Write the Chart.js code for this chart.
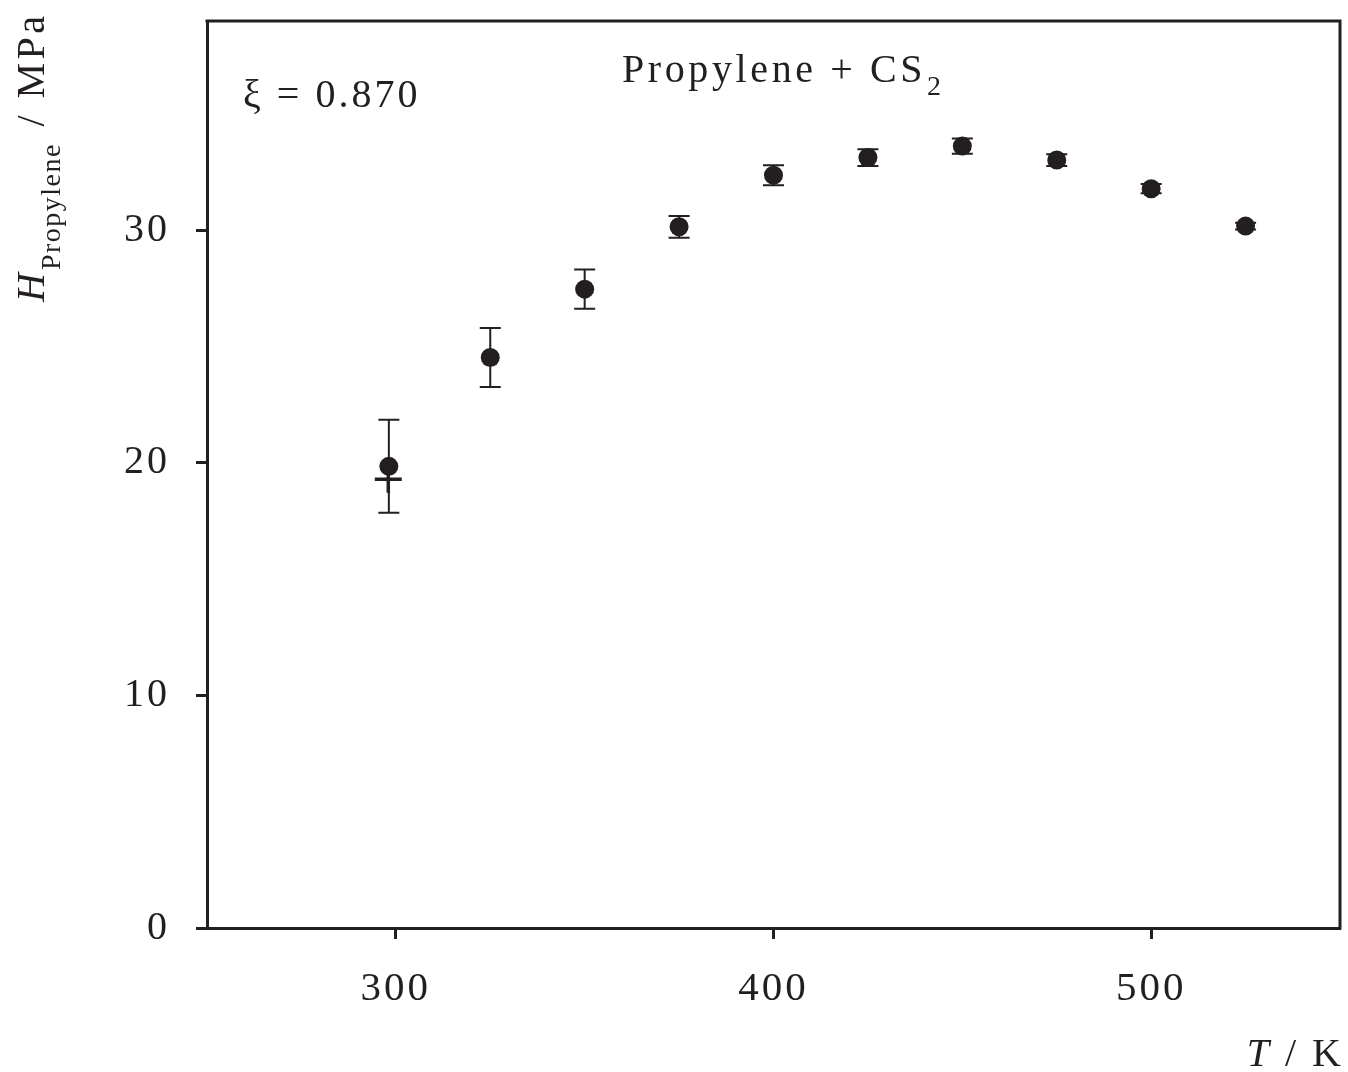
<!DOCTYPE html>
<html><head><meta charset="utf-8">
<script src="https://cdn.jsdelivr.net/npm/chart.js@4"></script>
<style>html,body{margin:0;padding:0;background:#fff}</style>
</head><body>
<canvas id="c" width="1348" height="1072"></canvas>
<script>
// Simulated Henry constants (with error bars) and one experimental point
const temps = [298.15, 325, 350, 375, 400, 425, 450, 475, 500, 525];
const henry = [19.85, 24.53, 27.47, 30.15, 32.37, 33.13, 33.62, 33.02, 31.79, 30.18];
const errs  = [2.0, 1.27, 0.84, 0.47, 0.43, 0.36, 0.33, 0.25, 0.2, 0.15];
const expT = [298.0];
const expH = [19.3];
const xTicks = [300, 400, 500];
const yTicks = [0, 10, 20, 30];
const titleMain = 'Propylene + CS';
const titleSub = '2';
const xiLabel = '\u03BE = 0.870';

const ink = '#231f20';
const FONT = '"Liberation Serif", "Times New Roman", serif';

function setLS(chart){ try { chart.ctx.letterSpacing = '3px'; } catch(e){} }
function noPad(s){ s.paddingTop = 0; s.paddingBottom = 0; s.paddingLeft = 0; s.paddingRight = 0; }

const decor = {
  id: 'decor',
  beforeUpdate(chart){ setLS(chart); },
  beforeDraw(chart){
    const ctx = chart.ctx;
    ctx.save(); ctx.fillStyle = '#fff'; ctx.fillRect(0,0,chart.width,chart.height); ctx.restore();
    setLS(chart);
  },
  beforeDatasetsDraw(chart){
    const ctx = chart.ctx, xs = chart.scales.x, ys = chart.scales.y;
    ctx.save();
    ctx.strokeStyle = ink; ctx.lineWidth = 2;
    temps.forEach((t,i)=>{
      const px = xs.getPixelForValue(t);
      const top = ys.getPixelForValue(henry[i] + errs[i]);
      const bot = ys.getPixelForValue(henry[i] - errs[i]);
      ctx.beginPath();
      ctx.moveTo(px, top); ctx.lineTo(px, bot);
      ctx.moveTo(px-10.5, top); ctx.lineTo(px+10.5, top);
      ctx.moveTo(px-10.5, bot); ctx.lineTo(px+10.5, bot);
      ctx.stroke();
    });
    ctx.restore();
  },
  afterDraw(chart){
    const ctx = chart.ctx, a = chart.chartArea;
    ctx.save();
    ctx.strokeStyle = ink; ctx.lineWidth = 3; ctx.lineCap = 'square';
    ctx.beginPath();
    ctx.moveTo(a.left, a.top); ctx.lineTo(a.right, a.top); ctx.lineTo(a.right, a.bottom);
    ctx.stroke();
    ctx.fillStyle = ink;
    ctx.textBaseline = 'alphabetic';
    ctx.letterSpacing = '3.6px';
    // title
    ctx.font = '40px ' + FONT;
    ctx.textAlign = 'left';
    let x0 = 622;
    ctx.fillText(titleMain, x0, 82);
    let w = ctx.measureText(titleMain).width;
    ctx.font = '28px ' + FONT;
    ctx.fillText(titleSub, x0 + w + 1, 95);
    // xi label
    ctx.letterSpacing = '3px';
    ctx.font = '40px ' + FONT;
    ctx.fillText(xiLabel, 243, 107);
    // x axis title "T / K"
    ctx.font = 'italic 40px ' + FONT;
    const tW = ctx.measureText('T').width;
    ctx.font = '40px ' + FONT;
    const rest = ' / K';
    const rW = ctx.measureText(rest).width;
    const xs = 1344 - tW - rW;
    ctx.font = 'italic 40px ' + FONT;
    ctx.fillText('T', xs, 1066);
    ctx.font = '40px ' + FONT;
    ctx.fillText(rest, xs + tW, 1066);
    // y axis title
    ctx.translate(44, 302);
    ctx.rotate(-Math.PI/2);
    ctx.font = 'italic 40px ' + FONT;
    ctx.fillText('H', 0, 0);
    let p = ctx.measureText('H').width;
    ctx.font = '28px ' + FONT;
    ctx.letterSpacing = '1.5px';
    ctx.fillText('Propylene', p, 16);
    p += ctx.measureText('Propylene').width + 3;
    ctx.font = '40px ' + FONT;
    ctx.letterSpacing = '3.5px';
    ctx.fillText(' / MPa', p, 0);
    ctx.restore();
  }
};

new Chart(document.getElementById('c'), {
  type: 'scatter',
  data: {
    datasets: [
      {
        data: temps.map((t,i)=>({x:t, y:henry[i]})),
        pointRadius: 9.5, pointHoverRadius: 9.5,
        pointBackgroundColor: ink, pointBorderColor: ink, pointBorderWidth: 0,
        showLine: false
      },
      {
        data: expT.map((t,i)=>({x:t, y:expH[i]})),
        pointStyle: 'cross', pointRadius: 13.5, pointHoverRadius: 13.5,
        pointBorderColor: ink, pointBorderWidth: 3.5,
        showLine: false
      }
    ]
  },
  options: {
    responsive: false,
    animation: false,
    events: [],
    layout: { autoPadding: false, padding: { top: 21, right: 8, left: 0, bottom: 0 } },
    plugins: { legend: { display: false }, tooltip: { enabled: false } },
    scales: {
      x: {
        type: 'linear', min: 250, max: 550,
        afterBuildTicks: s => { s.ticks = xTicks.map(v => ({ value: v })); },
        afterFit: s => { s.height = 144; noPad(s); },
        border: { display: true, color: ink, width: 3 },
        grid: { drawOnChartArea: false, drawTicks: true, tickLength: 11, tickWidth: 3, tickColor: ink, color: ink },
        ticks: { color: ink, font: { family: FONT, size: 41 }, padding: 26, maxRotation: 0, callback: v => String(v) }
      },
      y: {
        type: 'linear', min: 0, max: 39,
        afterBuildTicks: s => { s.ticks = yTicks.map(v => ({ value: v })); },
        afterFit: s => { s.width = 207; noPad(s); },
        border: { display: true, color: ink, width: 3 },
        grid: { drawOnChartArea: false, drawTicks: true, tickLength: 11, tickWidth: 3, tickColor: ink, color: ink },
        ticks: { color: ink, font: { family: FONT, size: 40 }, padding: 26, callback: v => String(v) }
      }
    }
  },
  plugins: [decor]
});
</script>
</body></html>
